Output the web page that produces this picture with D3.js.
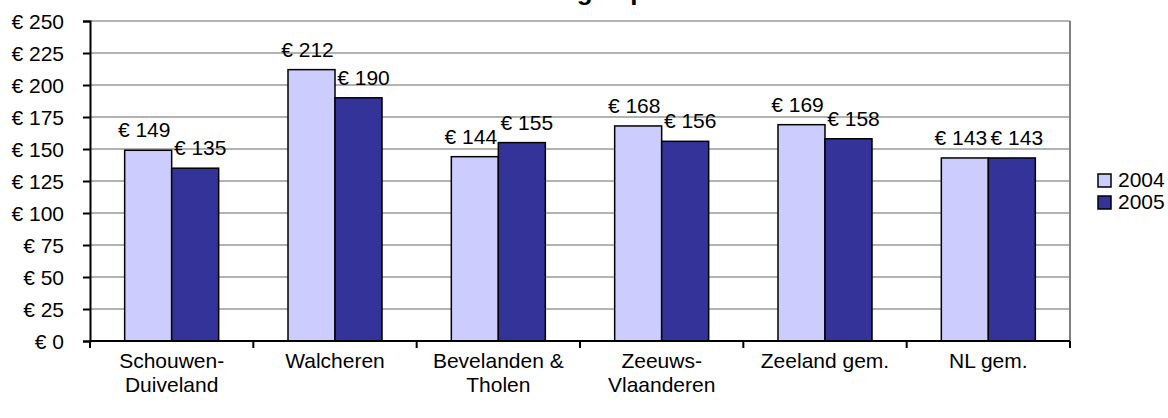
<!DOCTYPE html>
<html>
<head>
<meta charset="utf-8">
<script src="https://cdn.jsdelivr.net/npm/d3@7"></script>
<style>
  body { margin: 0; background: #fff; }
  svg text { font-family: "Liberation Sans", Arial, sans-serif; fill: #000; }
</style>
</head>
<body>
<div class="canva"></div>
<script>
// data
const categories = ['Schouwen-Duiveland', 'Walcheren', 'Bevelanden & Tholen', 'Zeeuws-Vlaanderen', 'Zeeland gem.', 'NL gem.'];
const categoryLines = [['Schouwen-', 'Duiveland'], ['Walcheren'], ['Bevelanden &', 'Tholen'], ['Zeeuws-', 'Vlaanderen'], ['Zeeland gem.'], ['NL gem.']];
const seriesNames = ['2004', '2005'];
const values2004 = [149, 212, 144, 168, 169, 143];
const values2005 = [135, 190, 155, 156, 158, 143];
const yTicks = [0, 25, 50, 75, 100, 125, 150, 175, 200, 225, 250];
const colors = ['#ccccff', '#333399'];
const title = 'Lokale heffingen per inwoner';

const width = 1168, height = 418;
const margin = { top: 21, right: 98, bottom: 77, left: 90 };
const fs = '21px';

const svg = d3.select('.canva').append('svg')
    .attr('width', width)
    .attr('height', height);

const pad = 1 - 94 / (980 / 6);
const x0 = d3.scaleBand()
    .domain(categories)
    .range([margin.left, width - margin.right])
    .paddingInner(pad)
    .paddingOuter(pad / 2);

const x1 = d3.scaleBand()
    .domain(seriesNames)
    .range([0, x0.bandwidth()]);

const y = d3.scaleLinear()
    .domain([0, 250])
    .range([height - margin.bottom, margin.top]);

// gridlines
svg.append('g')
    .selectAll('line')
    .data(yTicks.filter(d => d > 0))
    .enter().append('line')
    .attr('x1', margin.left)
    .attr('x2', width - margin.right)
    .attr('y1', d => y(d))
    .attr('y2', d => y(d))
    .attr('stroke', '#999999')
    .attr('stroke-width', 1.5);

// right border of plot area
svg.append('line')
    .attr('x1', width - margin.right)
    .attr('x2', width - margin.right)
    .attr('y1', y(250))
    .attr('y2', y(0))
    .attr('stroke', '#808080')
    .attr('stroke-width', 2);

const rows = categories.map((c, i) => ({ cat: c, vals: [values2004[i], values2005[i]] }));

const groups = svg.append('g')
    .selectAll('g')
    .data(rows)
    .enter().append('g')
    .attr('transform', d => `translate(${x0(d.cat)},0)`);

groups.selectAll('rect')
    .data(d => d.vals.map((v, i) => ({ key: seriesNames[i], v: v, i: i })))
    .enter().append('rect')
    .attr('x', d => x1(d.key))
    .attr('width', x1.bandwidth())
    .attr('y', d => y(d.v))
    .attr('height', d => y(0) - y(d.v))
    .attr('fill', d => colors[d.i])
    .attr('stroke', '#000')
    .attr('stroke-width', 1.5);

// value labels, nudged apart like the spreadsheet output
const labelShift = [-4, 5];
groups.selectAll('text')
    .data(d => d.vals.map((v, i) => ({ key: seriesNames[i], v: v, i: i })))
    .enter().append('text')
    .attr('x', d => x1(d.key) + x1.bandwidth() / 2 + labelShift[d.i])
    .attr('y', d => y(d.v) - 13)
    .attr('text-anchor', 'middle')
    .style('font-size', fs)
    .text(d => '€ ' + d.v);

// y axis
const yAxis = svg.append('g')
    .attr('transform', `translate(${margin.left},0)`)
    .call(d3.axisLeft(y).tickValues(yTicks).tickFormat(d => '€ ' + d).tickSize(7).tickPadding(19));
yAxis.select('.domain').attr('stroke', '#000').attr('stroke-width', 2);
yAxis.selectAll('.tick line').attr('stroke', '#000').attr('stroke-width', 2);
yAxis.selectAll('text').style('font-size', fs).attr('dy', '0.36em');

// x axis line and boundary ticks
const xAxis = svg.append('g');
xAxis.append('line')
    .attr('x1', margin.left)
    .attr('x2', width - margin.right)
    .attr('y1', y(0))
    .attr('y2', y(0))
    .attr('stroke', '#000')
    .attr('stroke-width', 2);

const step = x0.step();
const bounds = categories.map(c => x0(c) - step * pad / 2).concat([width - margin.right]);
xAxis.selectAll('.bt')
    .data(bounds)
    .enter().append('line')
    .attr('x1', d => d)
    .attr('x2', d => d)
    .attr('y1', y(0))
    .attr('y2', y(0) + 7)
    .attr('stroke', '#000')
    .attr('stroke-width', 2);

const catText = xAxis.selectAll('.cat')
    .data(categories)
    .enter().append('text')
    .attr('text-anchor', 'middle')
    .attr('x', d => x0(d) + x0.bandwidth() / 2)
    .attr('y', y(0) + 27)
    .style('font-size', fs);

catText.selectAll('tspan')
    .data((d, i) => categoryLines[i])
    .enter().append('tspan')
    .attr('x', function () { return this.parentNode.getAttribute('x'); })
    .attr('dy', (d, i) => i === 0 ? 0 : 24)
    .text(d => d);

// title (cut off at top edge, as in the source)
svg.append('text')
    .attr('x', 597)
    .attr('y', 0)
    .attr('text-anchor', 'middle')
    .style('font-size', '26px')
    .style('font-weight', 'bold')
    .text(title);

// legend
const legend = svg.append('g')
    .selectAll('g')
    .data(seriesNames)
    .enter().append('g')
    .attr('transform', (d, i) => `translate(1098,${174 + i * 22})`);

legend.append('rect')
    .attr('width', 13)
    .attr('height', 13)
    .attr('fill', (d, i) => colors[i])
    .attr('stroke', '#000')
    .attr('stroke-width', 1.5);

legend.append('text')
    .attr('x', 20)
    .attr('y', 13)
    .style('font-size', fs)
    .text(d => d);
</script>
</body>
</html>
